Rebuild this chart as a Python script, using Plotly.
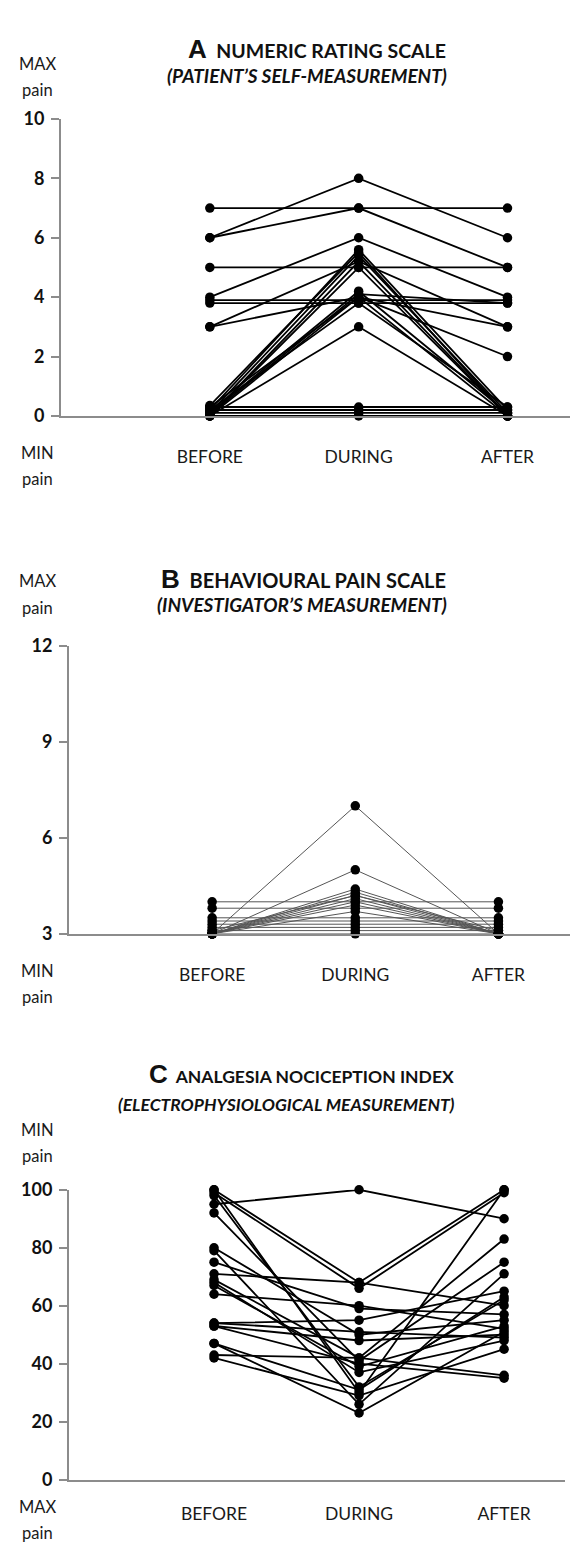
import plotly.graph_objects as go

W, H = 581, 1548

categories = ["BEFORE", "DURING", "AFTER"]
cat_pos = [1, 2, 3]

# Panel A: Numeric rating scale (before, during, after) per patient
nrs_before = [7, 6, 6, 5, 4, 3.9, 3.8, 3, 3, 0.3, 0.2, 0.1, 0.0, 0.0, 0.1, 0.0, 0.2, 0.0, 0.3, 0.2, 0.1, 0.0, 0.35, 0.05]
nrs_during = [7, 8, 7, 5, 6, 3.9, 3.8, 5.2, 4.0, 4.0, 5.6, 5.4, 5.2, 5.0, 4.2, 4.0, 3.8, 3.0, 0.3, 0.2, 0.1, 0.0, 5.5, 4.1]
nrs_after = [7, 6, 5, 5, 4, 3.9, 3.8, 3, 3, 2, 0.2, 0.1, 0.0, 0.0, 0.1, 0.0, 0.3, 0.0, 0.3, 0.2, 0.1, 0.0, 0.0, 3.8]
nrs_ticks = [0, 2, 4, 6, 8, 10]

# Panel B: Behavioural pain scale
bps_before = [3, 3, 3, 3, 3, 3, 3, 3.1, 4, 3.8, 3.5, 3.4, 3.3, 3.2, 3.1, 3, 3, 3]
bps_during = [7, 5, 4.4, 4.3, 4.2, 4.1, 4.0, 4.2, 4, 3.8, 3.5, 3.4, 3.3, 3.2, 3.1, 3, 3.9, 3.7]
bps_after = [3, 3, 3, 3, 3, 3, 3, 3.1, 4, 3.8, 3.5, 3.4, 3.3, 3.2, 3.1, 3, 3, 3]
bps_ticks = [3, 6, 9, 12]

# Panel C: Analgesia nociception index
ani_before = [95, 100, 99, 100, 98, 92, 80, 79, 75, 71, 69, 68, 67, 64, 54, 53, 53, 47, 47, 43, 42, 54]
ani_during = [100, 68, 66, 30, 32, 41, 50, 26, 59, 68, 42, 37, 39, 60, 55, 48, 40, 31, 23, 42, 29, 51]
ani_after = [90, 100, 99, 100, 62, 75, 55, 71, 57, 60, 83, 48, 53, 52, 65, 50, 35, 63, 51, 36, 45, 49]
ani_ticks = [0, 20, 40, 60, 80, 100]

FONT = "Lato"

# vertical calibration of the photographed page
Y_OFF, Y_SCALE = 11.0, 0.986


def px_x(p):
    return p / W


def px_y(p):
    return 1 - ((p - Y_OFF) / Y_SCALE) / H


def build(before, during, after):
    xs, ys = [], []
    for b, d, a in zip(before, during, after):
        xs += cat_pos + [None]
        ys += [b, d, a, None]
    return xs, ys


fig = go.Figure()

panels = [
    ((nrs_before, nrs_during, nrs_after), "", 61, 570, 3.42, 415, 118, [0, 10], nrs_ticks, dict(color="black", width=1.8), 24),
    ((bps_before, bps_during, bps_after), "2", 69, 570, 3.5, 933, 645, [3, 12], bps_ticks, dict(color="#555555", width=1), 24),
    ((ani_before, ani_during, ani_after), "3", 69, 565, 3.42, 1479, 1189, [0, 100], ani_ticks, dict(color="black", width=1.8), 17),
]

layout_axes = {}
for data, suf, xl, xr, xmax, yb, yt, yr, ticks, lstyle, standoff in panels:
    xs, ys = build(*data)
    fig.add_trace(go.Scatter(
        x=xs, y=ys, mode="lines+markers",
        line=lstyle,
        marker=dict(color="black", size=9.5),
        xaxis="x" + suf, yaxis="y" + suf,
        cliponaxis=False, showlegend=False, hoverinfo="skip",
    ))
    layout_axes["xaxis" + suf] = dict(
        domain=[px_x(xl), px_x(xr)], range=[0, xmax],
        anchor="y" + suf, showgrid=False, zeroline=False,
        showline=True, linecolor="#8c8c8c", linewidth=2,
        tickvals=cat_pos, ticktext=categories, ticks="",
        ticklabelstandoff=standoff,
        tickfont=dict(family=FONT, size=17.5, color="#1a1a1a"),
    )
    layout_axes["yaxis" + suf] = dict(
        domain=[px_y(yb), px_y(yt)], range=yr,
        anchor="x" + suf, showgrid=False, zeroline=False,
        showline=True, linecolor="#8c8c8c", linewidth=2,
        tickvals=ticks, ticks="outside", ticklen=8, tickwidth=1.5, tickcolor="#8c8c8c",
        ticklabelstandoff=3,
        tickfont=dict(family=FONT, size=18, color="#111", weight="bold"),
    )

annotations = []


def title(letter, main, sub, y_main, y_sub, x_right, size_main, size_sub):
    annotations.append(dict(
        x=px_x(x_right), y=px_y(y_main), xref="paper", yref="paper",
        xanchor="right", yanchor="middle", showarrow=False,
        text=f"<b><span style='font-family:Liberation Sans;font-size:26px'>{letter}</span>  {main}</b>",
        font=dict(family=FONT, size=size_main, color="#111"),
    ))
    annotations.append(dict(
        x=px_x(x_right + 1), y=px_y(y_sub), xref="paper", yref="paper",
        xanchor="right", yanchor="middle", showarrow=False,
        text=f"<b><i>{sub}</i></b>",
        font=dict(family=FONT, size=size_sub, color="#111"),
    ))


def label(text, y):
    annotations.append(dict(
        x=px_x(37), y=px_y(y), xref="paper", yref="paper",
        xanchor="center", yanchor="middle", showarrow=False,
        text=text, font=dict(family=FONT, size=16.5, color="#1a1a1a"),
    ))


title("A", "NUMERIC RATING SCALE", "(PATIENT\u2019S SELF-MEASUREMENT)", 48, 75, 448, 19.5, 19)
label("MAX", 63)
label("pain", 89)
label("MIN", 452)
label("pain", 478)

title("B", "BEHAVIOURAL PAIN SCALE", "(INVESTIGATOR\u2019S MEASUREMENT)", 578, 604, 448, 20, 19)
label("MAX", 580)
label("pain", 607)
label("MIN", 970)
label("pain", 996)

title("C", "ANALGESIA NOCICEPTION INDEX", "(ELECTROPHYSIOLOGICAL MEASUREMENT)", 1073, 1104, 456, 17.5, 17.5)
label("MIN", 1129)
label("pain", 1155)
label("MAX", 1506)
label("pain", 1532)

fig.update_layout(
    width=W, height=H,
    margin=dict(l=0, r=0, t=0, b=0),
    paper_bgcolor="white", plot_bgcolor="white",
    annotations=annotations,
    **layout_axes,
)

fig.write_html(
    "out.html",
    config={"displayModeBar": False},
    post_script="document.body.style.margin='0';document.documentElement.style.margin='0';",
)
